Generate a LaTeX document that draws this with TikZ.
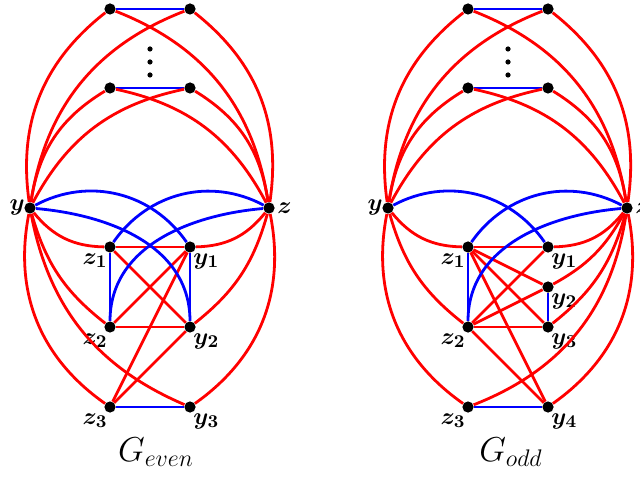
\documentclass[tikz,border=0pt]{standalone}
\usepackage{bm}
\begin{document}
\begin{tikzpicture}[x=0.5pt,y=0.5pt,
  v/.style={circle,fill=black,inner sep=0pt,minimum size=5.6pt},
  dotv/.style={circle,fill=black,inner sep=0pt,minimum size=2.6pt},
  re/.style={red,line width=1.4pt},
  be/.style={blue,line width=1.4pt},
  lab/.style={inner sep=0pt,font=\fontsize{12.5}{15}\selectfont},
  ttl/.style={inner sep=0pt,font=\fontsize{18}{21}\selectfont,anchor=base}]
\useasboundingbox (0,0) rectangle (640,476);

% ---------------- G_even ----------------
\node[v] (Ea1) at (110,467) {};
\node[v] (Eb1) at (190,467) {};
\node[v] (Ea2) at (110,388) {};
\node[v] (Eb2) at (190,388) {};
\node[dotv] (Ed1) at (150,427) {};
\node[dotv] (Ed2) at (150,414) {};
\node[dotv] (Ed3) at (150,401) {};
\node[v] (Ey) at (30,268) {};
\node[v] (Ez) at (269,268) {};
\node[v] (Ez1) at (110,229) {};
\node[v] (Ey1) at (190,229) {};
\node[v] (Ez2) at (110,149) {};
\node[v] (Ey2) at (190,149) {};
\node[v] (Ez3) at (110,69) {};
\node[v] (Ey3) at (190,69) {};

\node[lab,anchor=east] (ELy) at (25,268) {$\bm{y}$};
\node[lab,anchor=west] (ELz) at (277,268) {$\bm{z}$};
\node[lab,anchor=north east] (ELz1) at (108,223) {$\bm{z_1}$};
\node[lab,anchor=north west] (ELy1) at (193,223) {$\bm{y_1}$};
\node[lab,anchor=north east] (ELz2) at (108,143) {$\bm{z_2}$};
\node[lab,anchor=north west] (ELy2) at (193,143) {$\bm{y_2}$};
\node[lab,anchor=north east] (ELz3) at (108,63) {$\bm{z_3}$};
\node[lab,anchor=north west] (ELy3) at (193,63) {$\bm{y_3}$};
\node[ttl] (ELG) at (156,15) {$G_{even}$};

\draw[be] (Ea1) -- (Eb1);
\draw[be] (Ea2) -- (Eb2);
\draw[re] (Ey) to[bend left=30] (Ea1);
\draw[re] (Ey) to[bend left=30] (Eb1);
\draw[re] (Ey) to[bend left=25] (Ea2);
\draw[re] (Ey) to[bend left=25] (Eb2);
\draw[re] (Ez) to[bend right=30] (Eb1);
\draw[re] (Ez) to[bend right=30] (Ea1);
\draw[re] (Ez) to[bend right=25] (Eb2);
\draw[re] (Ez) to[bend right=25] (Ea2);

\draw[re] (Ey) to[bend right=25] (Ez1);
\draw[re] (Ey) to[bend right=18] (Ez2);
\draw[re] (Ey) to[bend right=33] (Ez3);
\draw[re] (Ey) to[bend right=28] (Ey3);
\draw[re] (Ez) to[bend left=25] (Ey1);
\draw[re] (Ez) to[bend left=18] (Ey2);
\draw[re] (Ez) to[bend left=33] (Ey3);
\draw[re] (Ez1) -- (Ey1);
\draw[re] (Ez2) -- (Ey2);
\draw[re] (Ez1) -- (Ey2);
\draw[re] (Ez2) -- (Ey1);
\draw[re] (Ez3) -- (Ey1);
\draw[re] (Ez3) -- (Ey2);
\draw[be] (Ez1) -- (Ez2);
\draw[be] (Ey1) -- (Ey2);
\draw[be] (Ez3) -- (Ey3);
\draw[be] (Ey) to[out=28,in=125] (Ey1);
\draw[be] (Ey) to[out=-5,in=90] (Ey2);
\draw[be] (Ez) to[out=152,in=55] (Ez1);
\draw[be] (Ez) to[out=185,in=90] (Ez2);

% ---------------- G_odd ----------------
\node[v] (Oa1) at (468,467) {};
\node[v] (Ob1) at (548,467) {};
\node[v] (Oa2) at (468,388) {};
\node[v] (Ob2) at (548,388) {};
\node[dotv] (Od1) at (508,427) {};
\node[dotv] (Od2) at (508,414) {};
\node[dotv] (Od3) at (508,401) {};
\node[v] (Oy) at (388,268) {};
\node[v] (Oz) at (627,268) {};
\node[v] (Oz1) at (468,229) {};
\node[v] (Oy1) at (548,229) {};
\node[v] (Oy2) at (548,189) {};
\node[v] (Oz2) at (468,149) {};
\node[v] (Oy3) at (548,149) {};
\node[v] (Oz3) at (468,69) {};
\node[v] (Oy4) at (548,69) {};

\node[lab,anchor=east] (OLy) at (383,268) {$\bm{y}$};
\node[lab,anchor=west] (OLz) at (635,268) {$\bm{z}$};
\node[lab,anchor=north east] (OLz1) at (466,223) {$\bm{z_1}$};
\node[lab,anchor=north west] (OLy1) at (551,223) {$\bm{y_1}$};
\node[lab,anchor=north west] (OLy2) at (551,183) {$\bm{y_2}$};
\node[lab,anchor=north east] (OLz2) at (466,143) {$\bm{z_2}$};
\node[lab,anchor=north west] (OLy3) at (551,143) {$\bm{y_3}$};
\node[lab,anchor=north east] (OLz3) at (466,63) {$\bm{z_3}$};
\node[lab,anchor=north west] (OLy4) at (551,63) {$\bm{y_4}$};
\node[ttl] (OLG) at (511,15) {$G_{odd}$};

\draw[be] (Oa1) -- (Ob1);
\draw[be] (Oa2) -- (Ob2);
\draw[re] (Oy) to[bend left=30] (Oa1);
\draw[re] (Oy) to[bend left=30] (Ob1);
\draw[re] (Oy) to[bend left=25] (Oa2);
\draw[re] (Oy) to[bend left=25] (Ob2);
\draw[re] (Oz) to[bend right=30] (Ob1);
\draw[re] (Oz) to[bend right=30] (Oa1);
\draw[re] (Oz) to[bend right=25] (Ob2);
\draw[re] (Oz) to[bend right=25] (Oa2);

\draw[re] (Oy) to[bend right=25] (Oz1);
\draw[re] (Oy) to[bend right=18] (Oz2);
\draw[re] (Oy) to[bend right=33] (Oz3);
\draw[re] (Oz) to[bend left=25] (Oy1);
\draw[re] (Oz) to[bend left=16] (Oy2);
\draw[re] (Oz) to[bend left=18] (Oy3);
\draw[re] (Oz) to[bend left=30] (Oz3);
\draw[re] (Oz) to[bend left=33] (Oy4);
\draw[re] (Oz1) -- (Oy1);
\draw[re] (Oz1) -- (Oy2);
\draw[re] (Oz1) -- (Oy3);
\draw[re] (Oz1) -- (Oy4);
\draw[re] (Oz2) -- (Oy1);
\draw[re] (Oz2) -- (Oy2);
\draw[re] (Oz2) -- (Oy3);
\draw[re] (Oz2) -- (Oy4);
\draw[be] (Oz1) -- (Oz2);
\draw[be] (Oy2) -- (Oy3);
\draw[be] (Oz3) -- (Oy4);
\draw[be] (Oy) to[out=28,in=125] (Oy1);
\draw[be] (Oz) to[out=152,in=55] (Oz1);
\draw[be] (Oz) to[out=185,in=90] (Oz2);
\end{tikzpicture}
\end{document}
